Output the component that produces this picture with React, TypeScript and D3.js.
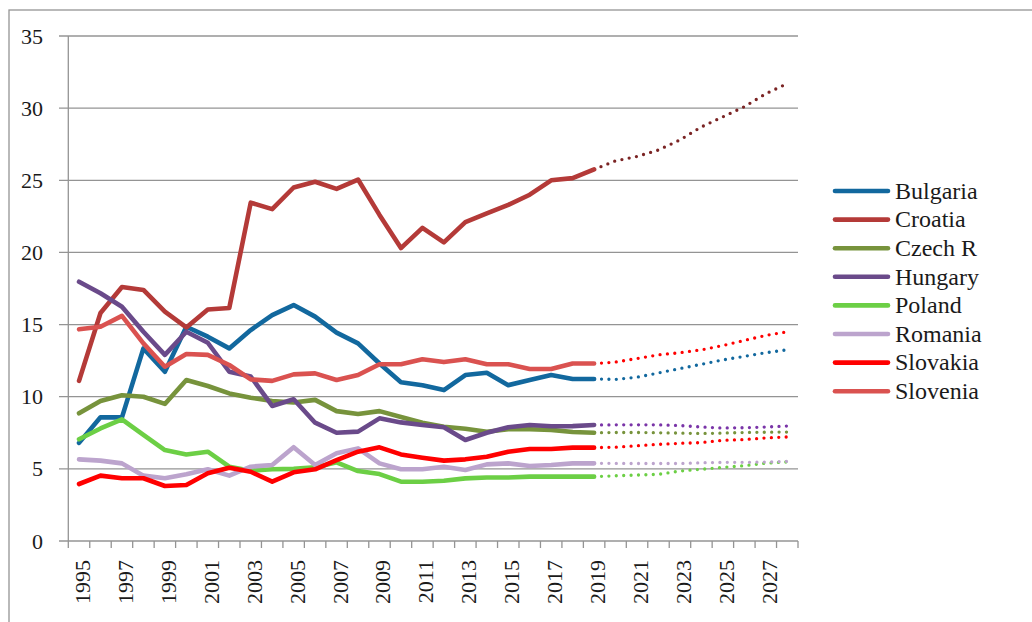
import * as d3 from "d3";

const years = [
  "1995", "1996", "1997", "1998", "1999", "2000", "2001", "2002", "2003", "2004",
  "2005", "2006", "2007", "2008", "2009", "2010", "2011", "2012", "2013", "2014",
  "2015", "2016", "2017", "2018", "2019", "2020", "2021", "2022", "2023", "2024",
  "2025", "2026", "2027", "2028",
];
const histYears = years.slice(0, 25);
const projYears = years.slice(24);
const yTicks = [0, 5, 10, 15, 20, 25, 30, 35];

const countries = ["Bulgaria", "Croatia", "Czech R", "Hungary", "Poland", "Romania", "Slovakia", "Slovenia"];

// 1995-2019
const bulgaria = [6.8, 8.57, 8.57, 13.35, 11.73, 14.85, 14.16, 13.35, 14.62, 15.66, 16.35, 15.55, 14.44, 13.7, 12.3, 11.0, 10.8, 10.46, 11.5, 11.66, 10.8, 11.16, 11.5, 11.23, 11.23];
const croatia = [11.1, 15.8, 17.6, 17.4, 15.9, 14.8, 16.05, 16.15, 23.45, 23.0, 24.5, 24.9, 24.4, 25.05, 22.6, 20.3, 21.7, 20.7, 22.1, 22.7, 23.3, 24.0, 25.0, 25.15, 25.75];
const czech = [8.85, 9.7, 10.1, 10.0, 9.5, 11.16, 10.74, 10.23, 9.93, 9.7, 9.6, 9.78, 9.0, 8.8, 9.0, 8.6, 8.2, 7.92, 7.78, 7.57, 7.74, 7.74, 7.7, 7.55, 7.5];
const hungary = [17.97, 17.17, 16.24, 14.5, 12.9, 14.5, 13.74, 11.73, 11.4, 9.36, 9.82, 8.2, 7.5, 7.58, 8.5, 8.22, 8.04, 7.88, 7.0, 7.5, 7.88, 8.04, 7.95, 7.96, 8.04];
const poland = [7.05, 7.8, 8.43, 7.35, 6.3, 6.0, 6.19, 5.15, 4.87, 4.97, 5.0, 5.1, 5.45, 4.85, 4.64, 4.11, 4.11, 4.18, 4.34, 4.4, 4.4, 4.46, 4.46, 4.46, 4.46];
const romania = [5.66, 5.57, 5.38, 4.53, 4.35, 4.62, 4.97, 4.53, 5.15, 5.27, 6.5, 5.27, 6.08, 6.42, 5.38, 4.97, 4.97, 5.15, 4.92, 5.31, 5.38, 5.2, 5.27, 5.38, 5.38];
const slovakia = [3.95, 4.53, 4.35, 4.35, 3.81, 3.88, 4.69, 5.08, 4.8, 4.11, 4.76, 4.97, 5.61, 6.19, 6.49, 6.0, 5.77, 5.57, 5.66, 5.84, 6.19, 6.38, 6.38, 6.47, 6.47];
const slovenia = [14.67, 14.85, 15.6, 13.7, 12.08, 12.96, 12.9, 12.2, 11.2, 11.1, 11.55, 11.62, 11.16, 11.5, 12.25, 12.25, 12.6, 12.4, 12.6, 12.25, 12.25, 11.92, 11.92, 12.3, 12.3];

// 2019-2028 projections
const bulgariaProj = [11.23, 11.2, 11.35, 11.65, 11.95, 12.25, 12.55, 12.8, 13.05, 13.25];
const croatiaProj = [25.75, 26.35, 26.65, 27.1, 27.8, 28.7, 29.4, 30.1, 31.0, 31.7];
const czechProj = [7.5, 7.52, 7.52, 7.5, 7.48, 7.45, 7.48, 7.52, 7.54, 7.55];
const hungaryProj = [8.04, 8.05, 8.05, 8.05, 8.0, 7.9, 7.83, 7.85, 7.9, 7.97];
const polandProj = [4.46, 4.52, 4.57, 4.62, 4.85, 4.97, 5.1, 5.22, 5.39, 5.48];
const romaniaProj = [5.38, 5.38, 5.37, 5.37, 5.37, 5.42, 5.45, 5.45, 5.47, 5.52];
const slovakiaProj = [6.47, 6.5, 6.6, 6.7, 6.77, 6.82, 6.98, 7.03, 7.14, 7.21];
const sloveniaProj = [12.3, 12.4, 12.65, 12.9, 13.05, 13.25, 13.55, 13.9, 14.25, 14.5];

const colors = ["#12689e", "#b43a38", "#77933c", "#6a4a8a", "#6ccf45", "#bca4cd", "#ff0000", "#da5250"];
const projColors = ["#12689e", "#7b2424", "#77933c", "#7a35a8", "#6ccf45", "#bca4cd", "#ff0000", "#ff0000"];

const hist = [bulgaria, croatia, czech, hungary, poland, romania, slovakia, slovenia];
const proj = [bulgariaProj, croatiaProj, czechProj, hungaryProj, polandProj, romaniaProj, slovakiaProj, sloveniaProj];

export default function App() {
  const left = 68.3, right = 798, top = 36, bottom = 541;
  const x = d3.scaleBand<string>().domain(years).range([left, right]);
  const y = d3.scaleLinear().domain([0, 35]).range([bottom, top]);
  const cx = (yr: string) => (x(yr) ?? 0) + x.bandwidth() / 2;

  const line = (labels: string[]) =>
    d3.line<number>().x((_, i) => cx(labels[i])).y((d) => y(d));

  const grid = "#949494";
  const font = "Liberation Serif, DejaVu Serif, serif";

  return (
    <svg width={1032} height={622} style={{ position: "absolute", left: 0, top: 0, background: "#fff" }}>
      <rect x={9} y={10} width={1100} height={700} fill="#fff" stroke={grid} strokeWidth={1.3} />

      {/* gridlines + y labels */}
      {yTicks.map((t) => (
        <g key={t}>
          <line x1={59} x2={right} y1={y(t)} y2={y(t)} stroke={grid} strokeWidth={1.3} />
          <text x={43} y={y(t) + 7.5} textAnchor="end" style={{ fontFamily: font }} fontSize={22} fill="#1a1a1a">
            {t}
          </text>
        </g>
      ))}
      <line x1={left} x2={left} y1={top} y2={bottom} stroke={grid} strokeWidth={1.3} />

      {/* x ticks */}
      {years.concat(["end"]).map((yr, i) => {
        const xp = left + i * x.bandwidth();
        return <line key={yr} x1={xp} x2={xp} y1={bottom} y2={bottom + 7} stroke={grid} strokeWidth={1.3} />;
      })}
      {years.filter((_, i) => i % 2 === 0).map((yr) => (
        <text
          key={yr}
          transform={`translate(${cx(yr) + 11},560) rotate(-90)`}
          textAnchor="end"
          style={{ fontFamily: font }}
          fontSize={22}
          fill="#1a1a1a"
        >
          {yr}
        </text>
      ))}

      {/* projections */}
      {proj.map((p, i) => (
        <path
          key={"p" + i}
          d={line(projYears)(p) ?? ""}
          fill="none"
          stroke={projColors[i]}
          strokeWidth={3.3}
          strokeLinecap="round"
          strokeDasharray="0 7.4"
        />
      ))}

      {/* historical */}
      {hist.map((h, i) => (
        <path
          key={"h" + i}
          d={line(histYears)(h) ?? ""}
          fill="none"
          stroke={colors[i]}
          strokeWidth={4.6}
          strokeLinejoin="round"
          strokeLinecap="round"
        />
      ))}

      {/* legend */}
      {countries.map((c, i) => {
        const ly = 191 + i * 28.6;
        return (
          <g key={c}>
            <line x1={835} x2={888} y1={ly} y2={ly} stroke={colors[i]} strokeWidth={4.6} strokeLinecap="round" />
            <text x={895} y={ly + 7.8} style={{ fontFamily: font }} fontSize={24} fill="#1a1a1a">
              {c}
            </text>
          </g>
        );
      })}
    </svg>
  );
}
